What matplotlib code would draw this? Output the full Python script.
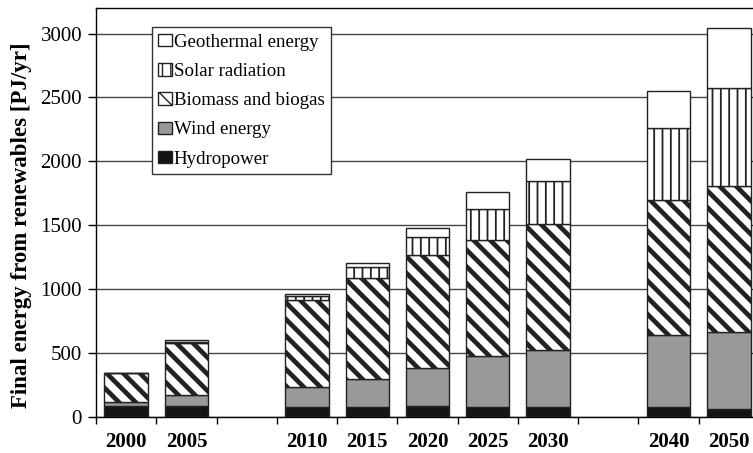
import matplotlib.pyplot as plt
import numpy as np

plt.rcParams['font.family'] = ['Liberation Serif', 'DejaVu Serif']

# Final energy from renewables [PJ/yr], stacked bottom to top
years = ["2000", "2005", "2010", "2015", "2020", "2025", "2030", "2040", "2050"]
hydro = [85, 83, 80, 80, 88, 80, 80, 80, 66]
wind = [30, 91, 155, 217, 296, 395, 447, 565, 600]
biomass = [229, 404, 678, 791, 885, 908, 984, 1050, 1143]
solar = [2, 12, 37, 83, 141, 246, 334, 565, 766]
geothermal = [2, 15, 13, 32, 70, 130, 175, 290, 470]

# an empty slot is left after these years
gap_after = ["2005", "2030"]

series = [
    ("Hydropower", hydro, "#141414", None, 1.0),
    ("Wind energy", wind, "#999999", None, 1.0),
    ("Biomass and biogas", biomass, "white", "\\\\", 3.4),
    ("Solar radiation", solar, "white", "||", 1.3),
    ("Geothermal energy", geothermal, "white", None, 1.0),
]

# slot index of each year along the x axis
positions = []
slot = 0
for y in years:
    positions.append(slot)
    slot += 2 if y in gap_after else 1
n_slots = slot

fig = plt.figure(figsize=(7.53, 4.53), dpi=100)
ax = fig.add_axes([96 / 753, 36 / 453, 663 / 753, 409 / 453])

bottom = np.zeros(len(years))
handles = []
for name, vals, color, hatch, hlw in series:
    with plt.rc_context({'hatch.linewidth': hlw, 'hatch.color': 'black'}):
        bars = ax.bar(positions, vals, width=0.72, bottom=bottom, color=color,
                      edgecolor="#222222", linewidth=1.0, hatch=hatch, zorder=3,
                      label=name)
        for p in bars:
            if hasattr(p, "set_hatch_linewidth"):
                p.set_hatch_linewidth(hlw)
    handles.append(bars)
    bottom += np.array(vals)

ax.set_xlim(-0.5, n_slots - 0.5)
ax.set_ylim(0, 3200)

# horizontal grid lines
ax.set_yticks(np.arange(0, 3001, 500))
ax.yaxis.grid(True, color="#444444", linewidth=1.0, zorder=0)
ax.set_axisbelow(True)
ax.tick_params(axis='y', labelsize=15, length=6, width=1, direction='out', pad=4)

# ticks on slot boundaries, year labels centred in each slot
ax.set_xticks(np.arange(-0.5, n_slots, 1.0))
ax.set_xticklabels([])
ax.set_xticks(positions, minor=True)
ax.set_xticklabels(years, minor=True, fontweight='bold', fontsize=15)
ax.tick_params(axis='x', which='major', length=5, width=1, direction='out')
ax.tick_params(axis='x', which='minor', length=0, pad=11)

for side in ['left', 'bottom', 'top']:
    ax.spines[side].set_color('black')
    ax.spines[side].set_linewidth(1.0)
ax.spines['right'].set_visible(False)

ax.set_ylabel("Final energy from renewables [PJ/yr]", fontsize=16.5,
              fontweight='bold')
ax.yaxis.set_label_coords(-0.097, 0.47)

leg = ax.legend(handles[::-1], [s[0] for s in series][::-1],
                loc='upper left', bbox_to_anchor=(0.0845, 0.953),
                borderaxespad=0, fancybox=False, framealpha=1,
                edgecolor='#333333', fontsize=13.6, handlelength=0.7,
                handleheight=0.65, handletextpad=0.12, labelspacing=0.65,
                borderpad=0.34)
leg.get_frame().set_linewidth(1.0)

fig.savefig("out.png", dpi=100)
